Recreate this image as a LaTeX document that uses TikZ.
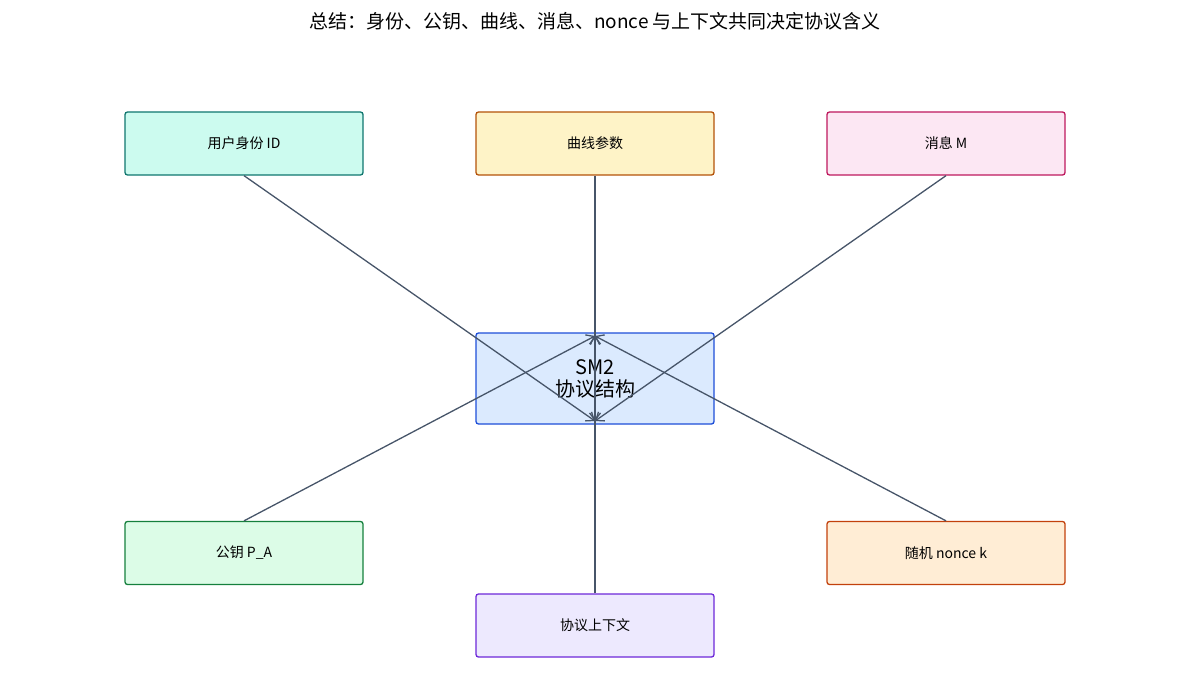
\documentclass[tikz,border=0pt]{standalone}
\usepackage{fontspec}
\setmainfont{Noto Sans CJK SC}
\usetikzlibrary{arrows.meta}
\definecolor{ln}{HTML}{475569}
\definecolor{s1}{HTML}{0F766E}\definecolor{f1}{HTML}{CCFBEF}
\definecolor{s2}{HTML}{B45309}\definecolor{f2}{HTML}{FEF3C7}
\definecolor{s3}{HTML}{BE185D}\definecolor{f3}{HTML}{FCE7F3}
\definecolor{s4}{HTML}{1D4ED8}\definecolor{f4}{HTML}{DBEAFE}
\definecolor{s5}{HTML}{15803D}\definecolor{f5}{HTML}{DCFCE7}
\definecolor{s6}{HTML}{6D28D9}\definecolor{f6}{HTML}{EDE9FE}
\definecolor{s7}{HTML}{C2410C}\definecolor{f7}{HTML}{FFEDD5}
\begin{document}
\begin{tikzpicture}[x=1pt,y=-1pt,
  box/.style={draw=s#1,fill=f#1,line width=1.3pt,rounded corners=2.5pt,minimum width=238pt,minimum height=63pt,font=\fontsize{14}{16}\selectfont,inner sep=0pt},
  con/.style={draw=ln,line width=1.3pt,-{Straight Barb[length=7pt,width=11pt]}}]
\useasboundingbox (0,0) rectangle (1190,690);
\node[font=\fontsize{19}{22}\selectfont] (title) at (595,21) {总结：身份、公钥、曲线、消息、nonce 与上下文共同决定协议含义};
\node[box=1] (id) at (244,143.5) {用户身份 ID};
\node[box=2] (curve) at (595,143.5) {曲线参数};
\node[box=3] (msg) at (946,143.5) {消息 M};
\node[box=4,minimum height=91pt,font=\fontsize{20}{22}\selectfont,align=center] (sm2) at (595,378.5) {SM2\\协议结构};
\node[box=5] (pk) at (244,553) {公钥 P\_A};
\node[box=6] (ctx) at (595,625.5) {协议上下文};
\node[box=7] (nonce) at (946,553) {随机 nonce k};
\coordinate (bt) at (595,421);
\coordinate (tp) at (595,336);
\draw[con] (id.south) -- (bt);
\draw[con] (curve.south) -- (bt);
\draw[con] (msg.south) -- (bt);
\draw[con] (pk.north) -- (tp);
\draw[con] (ctx.north) -- (tp);
\draw[con] (nonce.north) -- (tp);
\end{tikzpicture}
\end{document}
